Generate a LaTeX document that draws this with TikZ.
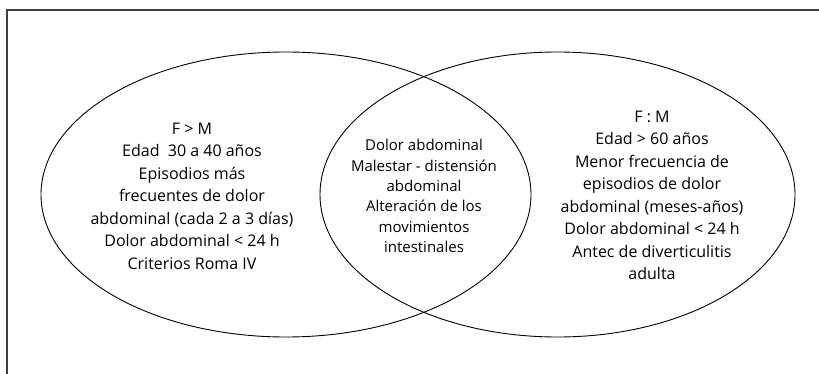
\documentclass[tikz,border=0pt]{standalone}
\usepackage{fontspec}
\setmainfont{Open Sans}
\usetikzlibrary{positioning}

\tikzset{
  venntext/.style={align=center,font=\fontsize{16}{22.5}\selectfont,inner sep=0pt},
  vennline/.style={line width=0.9pt,black}
}

\begin{document}
\begin{tikzpicture}[x=1pt,y=-1pt]
  \useasboundingbox (0,0) rectangle (819,374);
  % frame
  \draw[line width=1.2pt,black!75] (819,10) -- (7,10) -- (7,374);
  % the two sets
  \draw[vennline] (286,194.5) ellipse (245 and 142.5);
  \draw[vennline] (557.5,194.5) ellipse (237.5 and 142.5);
  \node[venntext] (left) at (192,196) {F > M\\Edad\ \ 30 a 40 años\\Episodios más\\frecuentes de dolor\\abdominal (cada 2 a 3 días)\\Dolor abdominal < 24 h\\Criterios Roma IV};
  \node[venntext,font=\fontsize{15}{20.4}\selectfont] (both) at (424,196) {Dolor abdominal\\Malestar - distensión\\abdominal\\Alteración de los\\movimientos\\intestinales};
  \node[venntext] (right) at (652,195.5) {F : M\\Edad > 60 años\\Menor frecuencia de\\episodios de dolor\\abdominal (meses-años)\\Dolor abdominal < 24 h\\Antec de diverticulitis\\adulta};
\end{tikzpicture}
\end{document}
